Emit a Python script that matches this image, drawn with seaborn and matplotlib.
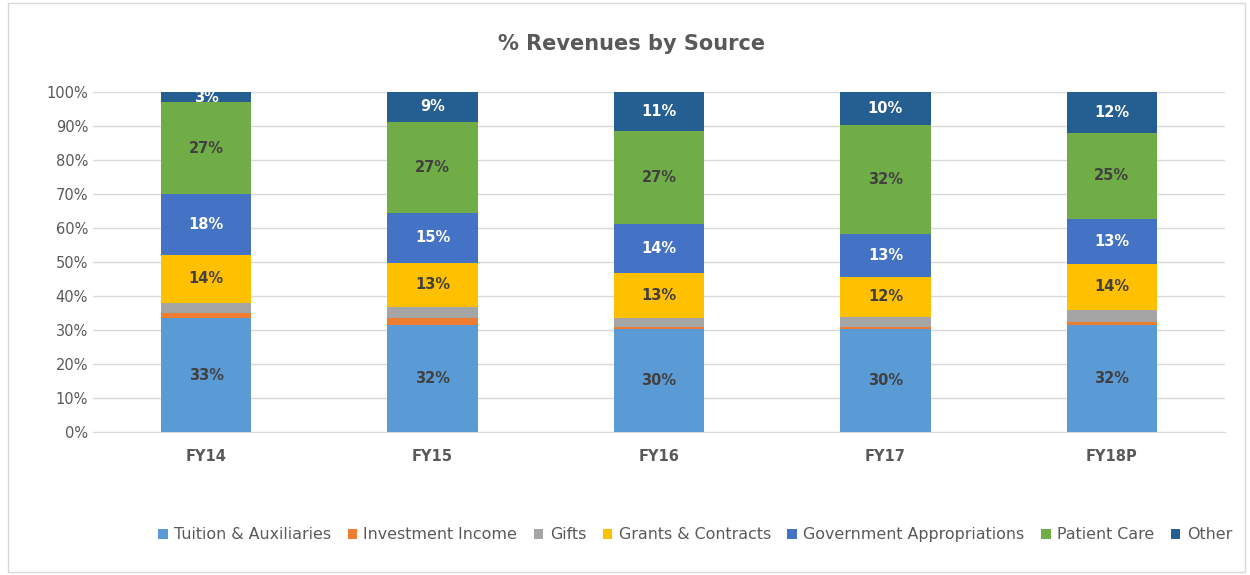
import seaborn as sns
import matplotlib.pyplot as plt
import pandas as pd
import numpy as np
from matplotlib.patches import Patch, Rectangle

# data (% of revenue)
years = ["FY14", "FY15", "FY16", "FY17", "FY18P"]
sources = ["Tuition & Auxiliaries", "Investment Income", "Gifts", "Grants & Contracts",
           "Government Appropriations", "Patient Care", "Other"]
tuition = [33.4, 31.6, 30.3, 30.2, 31.6]
investment = [1.5, 1.8, 0.7, 0.7, 0.8]
gifts = [3.0, 3.4, 2.5, 3.0, 3.5]
grants = [14.3, 13.0, 13.3, 11.8, 13.6]
government = [17.8, 14.6, 14.4, 12.6, 13.2]
patient = [27.0, 26.9, 27.4, 32.0, 25.3]
other = [3.0, 8.7, 11.4, 9.7, 12.0]

colors = ["#5B9BD5", "#ED7D31", "#A5A5A5", "#FFC000", "#4472C4", "#70AD47", "#255E91"]
label_colors = ["#404040", None, None, "#404040", "white", "#404040", "white"]

series = [tuition, investment, gifts, grants, government, patient, other]
df = pd.DataFrame(dict(zip(sources, series)), index=years)
cum = df.cumsum(axis=1)

sns.set_style("white")
plt.rcParams['font.family'] = ['DejaVu Sans']

fig = plt.figure(figsize=(12.5, 5.75), dpi=100)
ax = fig.add_axes([0.0744, 0.2487, 0.9056, 0.5913])

# stacked bars: draw cumulative totals from the top down
for i in range(len(sources) - 1, -1, -1):
    sns.barplot(x=years, y=cum[sources[i]].values, color=colors[i], width=0.4,
                saturation=1, linewidth=0, ax=ax, zorder=3)

# value labels
for i, src in enumerate(sources):
    if label_colors[i] is None:
        continue
    for j, yr in enumerate(years):
        v = df.loc[yr, src]
        mid = cum.loc[yr, src] - v / 2
        ax.text(j, mid, f"{v:.0f}%", ha="center", va="center", fontsize=10.5,
                fontweight="bold", color=label_colors[i], zorder=5)

ax.set_ylim(0, 100)
ax.set_xlim(-0.5, 4.5)
ax.set_yticks(np.arange(0, 101, 10))
ax.set_yticklabels([f"{t}%" for t in range(0, 101, 10)])
ax.yaxis.grid(True, color="#D9D9D9", linewidth=1, zorder=0)
ax.set_axisbelow(True)
for s in ["top", "right", "left"]:
    ax.spines[s].set_visible(False)
ax.spines["bottom"].set_color("#D9D9D9")
ax.tick_params(axis="both", length=0, labelcolor="#595959", labelsize=10.5)
ax.tick_params(axis="x", pad=12)
for lbl in ax.get_xticklabels():
    lbl.set_fontweight("bold")
ax.set_xlabel("")
ax.set_ylabel("")

fig.text(0.505, 0.923, "% Revenues by Source", ha="center", va="center",
         fontsize=15, fontweight="bold", color="#595959")

handles = [Patch(facecolor=c, edgecolor="none") for c in colors]
fig.legend(handles, sources, loc="center", bbox_to_anchor=(0.556, 0.07), ncol=7,
           frameon=False, fontsize=11.4, handlelength=0.6, handleheight=0.6,
           handletextpad=0.4, columnspacing=1.05, labelcolor="#595959")

fig.patches.append(Rectangle((0.006, 0.005), 0.99, 0.99, transform=fig.transFigure,
                             fill=False, edgecolor="#D9D9D9", linewidth=1))

fig.savefig("out.png", dpi=100)
